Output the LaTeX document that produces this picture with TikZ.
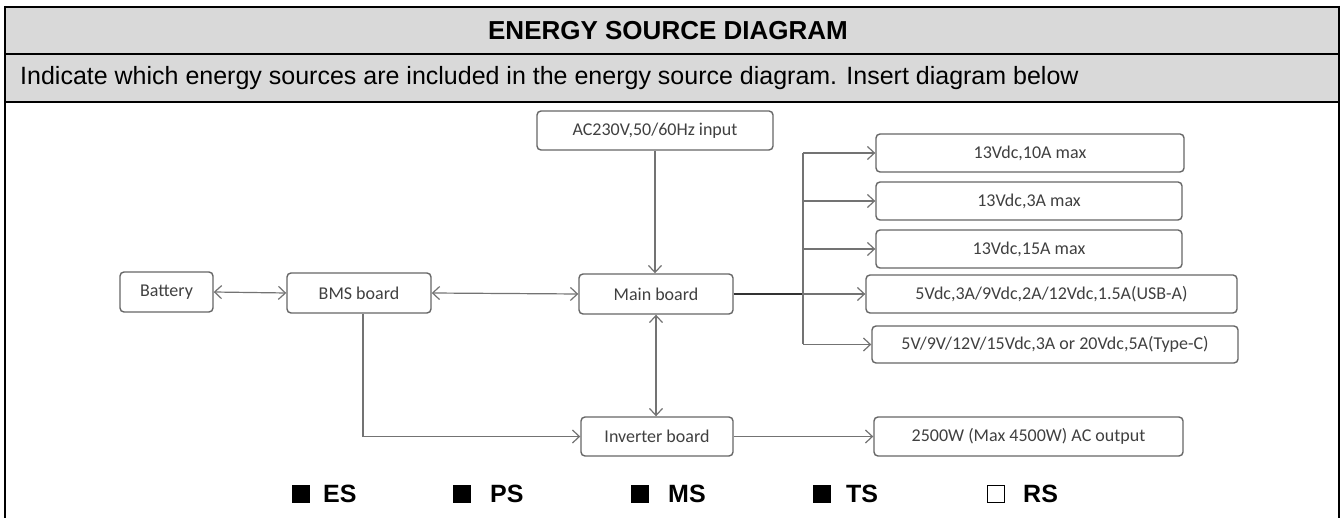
\documentclass[tikz,border=0pt]{standalone}
\usepackage{fontspec}
\setmainfont{Liberation Sans}
\newfontfamily\boxfont{Carlito}
\usetikzlibrary{arrows.meta}
\definecolor{hdrgray}{HTML}{D9D9D9}
\definecolor{boxline}{HTML}{666666}
\definecolor{boxtext}{HTML}{404040}
\definecolor{wire}{HTML}{737373}
\begin{document}
\begin{tikzpicture}[x=1pt,y=-1pt,
  box/.style={draw=boxline, line width=1.4pt, rounded corners=4pt, inner sep=0pt,
    text=boxtext, font=\boxfont\fontsize{18}{21}\selectfont, fill=white},
  wireline/.style={draw=wire, line width=1.2pt},
  >={Straight Barb[length=7pt,width=13pt,line width=1.2pt]},
  legtext/.style={anchor=west, inner sep=0pt, font=\bfseries\fontsize{25}{30}\selectfont},
  legbox/.style={fill=black},
  hdrline/.style={line width=2.4pt}
]
\useasboundingbox (0,0) rectangle (1341,518);
% header
\fill[hdrgray] (5,7) rectangle (1339,102);
\draw[hdrline] (5,7) -- (1339,7);
\draw[line width=2pt] (5,54) -- (1339,54);
\draw[line width=1.4pt] (5,102) -- (1339,102);
\draw[hdrline] (5,102) -- (115,102);
\draw[hdrline] (1242,102) -- (1339,102);
\draw[hdrline] (5,5.8) -- (5,518);
\draw[hdrline] (1339,5.8) -- (1339,518);
\node[inner sep=0pt, font=\bfseries\fontsize{26}{30}\selectfont] (title) at (668,31) {ENERGY SOURCE DIAGRAM};
\node[anchor=west, inner sep=0pt, font=\fontsize{25}{30}\selectfont] (instr) at (20,78) {Indicate which energy sources are included in the energy source diagram. Insert diagram below};

% boxes
\node[box, minimum width=93pt, minimum height=40pt] (bat) at (166.5,292) {Battery};
\node[box, minimum width=144pt, minimum height=40pt] (bms) at (359,293) {BMS board};
\node[box, minimum width=236pt, minimum height=39pt] (ac) at (655,130.5) {AC230V,50/60Hz input};
\node[box, minimum width=154pt, minimum height=40pt] (main) at (656,294) {Main board};
\node[box, minimum width=152pt, minimum height=39pt] (inv) at (657,436.5) {Inverter board};
\node[box, minimum width=308pt, minimum height=38pt] (o1) at (1030,153) {13Vdc,10A max};
\node[box, minimum width=306pt, minimum height=38pt] (o2) at (1029,201) {13Vdc,3A max};
\node[box, minimum width=306pt, minimum height=38pt] (o3) at (1029,249) {13Vdc,15A max};
\node[box, minimum width=371pt, minimum height=38pt] (o4) at (1051.5,294) {5Vdc,3A/9Vdc,2A/12Vdc,1.5A(USB-A)};
\node[box, minimum width=366pt, minimum height=37pt] (o5) at (1055,344.5) {5V/9V/12V/15Vdc,3A or 20Vdc,5A(Type-C)};
\node[box, minimum width=309pt, minimum height=39pt] (o6) at (1028.5,436.5) {2500W (Max 4500W) AC output};

% connectors
\coordinate (trunk) at (803,0);
\draw[wireline, <->] (bat.east) -- (bms.west);
\draw[wireline, <->] (bms.east) -- (main.west);
\draw[wireline, ->] (ac.south) -- (main.north -| ac.south);
\draw[wireline, <->] (main.south) -- (inv.north -| main.south);
\draw[wireline, ->] ([xshift=4pt]bms.south) |- (inv.west);
\draw[wireline, ->] (inv.east) -- (o6.west);
\draw[line width=2.2pt, draw=black!80] (main.east) -- (trunk |- main.east);
\draw[wireline] (trunk |- o1.west) -- (trunk |- o5.west);
\draw[wireline, ->] (trunk |- o1.west) -- (o1.west);
\draw[wireline, ->] (trunk |- o2.west) -- (o2.west);
\draw[wireline, ->] (trunk |- o3.west) -- (o3.west);
\draw[wireline, ->] (trunk |- o4.west) -- (o4.west);
\draw[wireline, ->] (trunk |- o5.west) -- (o5.west);

% legend
\fill[legbox] (292,485) rectangle (310,503);
\node[legtext] (les) at (323,494) {ES};
\fill[legbox] (453,485) rectangle (471,503);
\node[legtext] (lps) at (490,494) {PS};
\fill[legbox] (631,485) rectangle (649,503);
\node[legtext] (lms) at (668,494) {MS};
\fill[legbox] (813,485) rectangle (831,503);
\node[legtext] (lts) at (846,494) {TS};
\draw[line width=1.4pt] (987.5,485.5) rectangle (1004.5,502.5);
\node[legtext] (lrs) at (1023,494) {RS};
\end{tikzpicture}
\end{document}
